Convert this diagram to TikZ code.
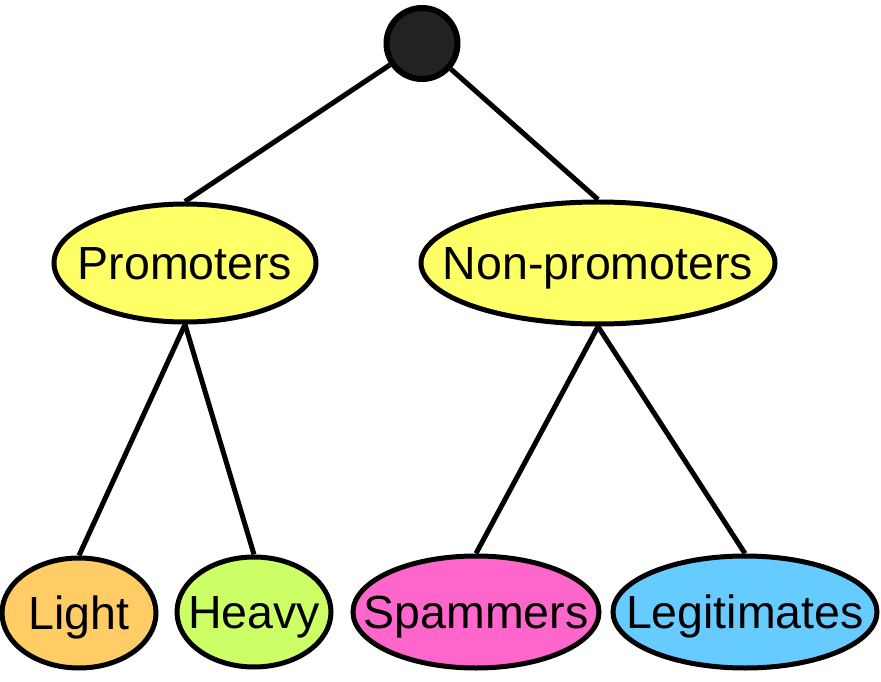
\documentclass[tikz,border=0pt]{standalone}
\usepackage{fontspec}
\setmainfont{Liberation Sans}
\usetikzlibrary{positioning}
\usetikzlibrary{shapes.geometric}

\definecolor{promyellow}{HTML}{FFFF66}
\definecolor{lightorange}{HTML}{FFCC66}
\definecolor{heavygreen}{HTML}{CCFF66}
\definecolor{spampink}{HTML}{FF66CC}
\definecolor{legitblue}{HTML}{66CCFF}
\definecolor{rootgray}{HTML}{222222}

\tikzset{
  group/.style={ellipse, draw=black, line width=5pt, inner sep=0pt},
  every label/.append style={font=\fontsize{46.5}{52}\selectfont, inner sep=0pt,
    text height=33pt, text depth=0pt},
  branch/.style={line width=5pt}
}

\begin{document}
\begin{tikzpicture}[x=1pt,y=1pt]
    \useasboundingbox (0,0) rectangle (881,681);
    % root
    \node[circle, draw=black, line width=6pt, fill=rootgray, minimum size=71pt, inner sep=0pt] (root) at (422,637.5) {};
    % second level
    \node[group, fill=promyellow, minimum width=262pt, minimum height=118pt, label=center:Promoters] (prom) at (185,418) {};
    \node[group, fill=promyellow, minimum width=354pt, minimum height=122pt, label=center:Non-promoters] (nonprom) at (598,418) {};
    % leaves
    \node[group, fill=lightorange, minimum width=154pt, minimum height=110pt, label=center:Light] (light) at (79,68) {};
    \node[group, fill=heavygreen, minimum width=154pt, minimum height=110pt, label=center:Heavy] (heavy) at (254,69) {};
    \node[group, fill=spampink, minimum width=246pt, minimum height=112pt, label=center:Spammers] (spam) at (476,69) {};
    \node[group, fill=legitblue, minimum width=264pt, minimum height=112pt, label=center:Legitimates] (legit) at (745,69) {};

    \draw[branch] (root) -- (prom.north);
    \draw[branch] (root) -- (nonprom.north);
    \draw[branch] (prom.south) -- (light.north);
    \draw[branch] (prom.south) -- (heavy.north);
    \draw[branch] (nonprom.south) -- (spam.north);
    \draw[branch] (nonprom.south) -- (legit.north);
\end{tikzpicture}
\end{document}
